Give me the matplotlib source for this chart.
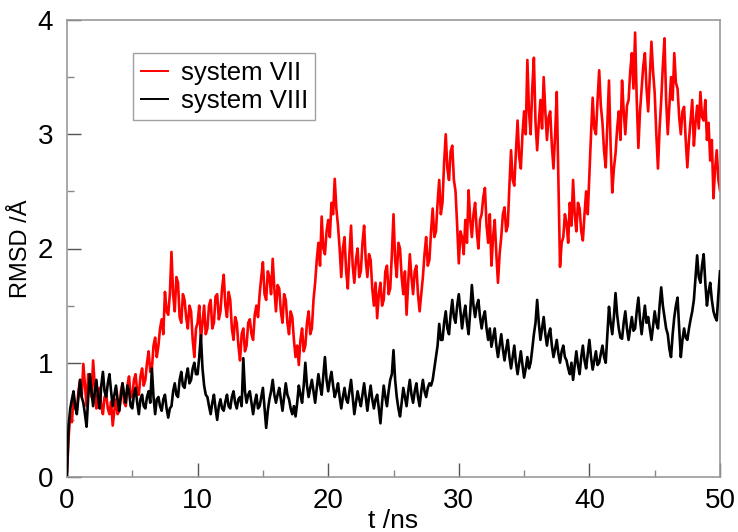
import numpy as np
import matplotlib
matplotlib.use("Agg")
import matplotlib.pyplot as plt
from matplotlib.ticker import MultipleLocator

# RMSD (Angstrom), 8 samples per ns (one row per ns)
rmsd_vii = [
    0.05, 0.35, 0.55, 0.48, 0.72, 0.60, 0.58, 0.75,
    0.85, 0.70, 0.99, 0.80, 0.62, 0.90, 0.80, 0.70,
    1.02, 0.80, 0.60, 0.72, 0.78, 0.62, 0.55, 0.70,
    0.72, 0.60, 0.55, 0.66, 0.45, 0.58, 0.68, 0.55,
    0.58, 0.75, 0.82, 0.65, 0.62, 0.80, 0.88, 0.70,
    0.70, 0.85, 0.90, 0.75, 0.72, 0.88, 0.95, 0.80,
    0.85, 1.00, 1.10, 0.92, 0.95, 1.15, 1.22, 1.05,
    1.15, 1.30, 1.38, 1.25, 1.62, 1.45, 1.42, 1.60,
    1.97, 1.60, 1.45, 1.75, 1.70, 1.40, 1.35, 1.60,
    1.55, 1.40, 1.30, 1.50, 1.45, 1.20, 1.05, 1.30,
    1.35, 1.50, 1.20, 1.35, 1.50, 1.25, 1.30, 1.50,
    1.55, 1.30, 1.35, 1.58, 1.60, 1.38, 1.45, 1.65,
    1.77, 1.50, 1.40, 1.62, 1.55, 1.30, 1.20, 1.40,
    1.35, 1.15, 1.02, 1.25, 1.30, 1.10, 1.15, 1.35,
    1.38, 1.25, 1.20, 1.42, 1.50, 1.40, 1.60, 1.75,
    1.88, 1.60, 1.55, 1.80, 1.75, 1.60, 1.91, 1.65,
    1.45, 1.68, 1.65, 1.45, 1.35, 1.60, 1.55, 1.35,
    1.25, 1.45, 1.40, 1.20, 1.05, 1.15, 0.98, 1.20,
    1.30, 1.10, 1.15, 1.35, 1.45, 1.25, 1.30, 1.55,
    1.70, 1.90, 2.05, 1.85, 2.28, 2.00, 1.95, 2.15,
    2.25, 2.10, 2.40, 2.30, 2.61, 2.35, 2.20, 2.00,
    1.75, 2.00, 2.10, 1.80, 1.65, 1.95, 2.20, 1.85,
    1.70, 1.90, 2.00, 1.75, 1.80, 2.05, 2.20, 1.90,
    1.75, 1.95, 1.90, 1.65, 1.50, 1.70, 1.39, 1.60,
    1.70, 1.50, 1.55, 1.80, 1.85, 1.60, 1.65, 1.95,
    2.30, 1.90, 1.75, 2.05, 2.00, 1.75, 1.60, 1.80,
    1.42, 1.70, 1.95, 1.75, 1.60, 1.80, 1.85, 1.60,
    1.45, 1.60, 1.75, 1.95, 2.10, 1.85, 1.90, 2.15,
    2.35, 2.10, 2.15, 2.40, 2.60, 2.30, 2.40, 2.75,
    3.00, 2.70, 2.60, 2.85, 2.90, 2.60, 2.50, 2.20,
    1.87, 2.15, 2.10, 1.95, 2.25, 2.05, 2.51, 2.25,
    2.10, 2.30, 2.40, 2.15, 2.00, 2.25, 2.30, 2.45,
    2.53, 2.20, 2.05, 2.30, 1.85, 2.10, 2.25, 1.95,
    1.70, 1.95, 2.10, 2.30, 2.36, 2.15, 2.20, 2.55,
    2.86, 2.60, 2.55, 2.85, 3.12, 2.80, 2.70, 3.00,
    3.20, 3.00, 3.65, 3.20, 3.00, 3.40, 3.67, 3.10,
    2.86, 3.10, 3.30, 3.05, 3.50, 3.20, 2.95, 3.15,
    3.20, 2.90, 2.70, 3.00, 3.37, 2.60, 1.84, 2.05,
    2.10, 2.30, 2.22, 2.05, 2.40, 2.20, 2.60, 2.30,
    2.15, 2.40, 2.35, 2.15, 2.07, 2.30, 2.50, 2.30,
    2.66, 3.00, 3.32, 3.05, 3.00, 3.30, 3.56, 3.25,
    3.10, 2.85, 2.71, 3.10, 3.47, 2.90, 2.49, 2.70,
    2.83, 3.05, 3.20, 2.95, 3.47, 3.20, 3.00, 3.25,
    3.30, 3.55, 3.71, 3.40, 3.89, 3.30, 2.88, 3.20,
    3.40, 3.60, 3.71, 3.40, 3.20, 3.50, 3.81, 3.55,
    3.36, 3.00, 2.70, 3.05, 3.30, 3.60, 3.84, 3.30,
    3.00, 3.25, 3.50, 3.30, 3.71, 3.45, 3.40, 3.15,
    3.00, 3.20, 3.24, 2.95, 2.71, 2.95, 3.12, 3.30,
    2.90, 3.10, 3.25, 3.05, 3.37, 3.15, 3.12, 3.30,
    2.95, 3.10, 2.77, 2.95, 2.44, 2.70, 2.86, 2.60,
    2.51,
]

rmsd_viii = [
    0.02, 0.45, 0.60, 0.68, 0.75, 0.62, 0.55, 0.70,
    0.85, 0.70, 0.65, 0.55, 0.44, 0.70, 0.90, 0.75,
    0.62, 0.75, 0.85, 0.70, 0.60, 0.80, 0.92, 0.75,
    0.70, 0.82, 0.90, 0.75, 0.62, 0.72, 0.80, 0.68,
    0.58, 0.70, 0.82, 0.72, 0.65, 0.80, 0.75, 0.62,
    0.60, 0.72, 0.78, 0.65, 0.55, 0.68, 0.72, 0.62,
    0.60, 0.70, 0.75, 0.65, 0.95, 0.70, 0.55, 0.68,
    0.70, 0.62, 0.58, 0.68, 0.72, 0.60, 0.52, 0.60,
    0.62, 0.75, 0.82, 0.72, 0.70, 0.85, 0.92, 0.80,
    0.78, 0.88, 0.95, 0.82, 0.85, 0.95, 1.00, 0.90,
    0.90, 1.05, 1.24, 0.95, 0.80, 0.72, 0.70, 0.62,
    0.55, 0.65, 0.72, 0.60, 0.50, 0.62, 0.68, 0.60,
    0.58, 0.66, 0.72, 0.62, 0.60, 0.70, 0.75, 0.65,
    0.60, 0.68, 0.70, 0.62, 1.04, 0.75, 0.65, 0.72,
    0.75, 0.65, 0.55, 0.65, 0.72, 0.60, 0.62, 0.70,
    0.78, 0.60, 0.43, 0.58, 0.68, 0.75, 0.85, 0.72,
    0.65, 0.72, 0.78, 0.68, 0.58, 0.70, 0.82, 0.72,
    0.68, 0.60, 0.55, 0.62, 0.53, 0.65, 0.80, 0.72,
    0.65, 0.80, 1.00, 0.80, 0.70, 0.78, 0.85, 0.75,
    0.65, 0.78, 0.90, 0.80, 0.72, 0.88, 1.05, 0.85,
    0.75, 0.85, 0.92, 0.80, 0.70, 0.75, 0.82, 0.70,
    0.60, 0.70, 0.78, 0.68, 0.65, 0.75, 0.85, 0.70,
    0.55, 0.65, 0.75, 0.68, 0.62, 0.72, 0.82, 0.70,
    0.58, 0.70, 0.80, 0.68, 0.60, 0.68, 0.72, 0.60,
    0.47, 0.65, 0.80, 0.70, 0.62, 0.75, 0.85, 0.90,
    1.11, 0.85, 0.70, 0.60, 0.53, 0.65, 0.78, 0.70,
    0.62, 0.75, 0.85, 0.72, 0.65, 0.75, 0.82, 0.70,
    0.62, 0.75, 0.85, 0.75, 0.70, 0.78, 0.82, 0.80,
    0.85, 0.95, 1.05, 1.15, 1.34, 1.20, 1.20, 1.35,
    1.45, 1.30, 1.25, 1.42, 1.55, 1.40, 1.35, 1.50,
    1.60, 1.45, 1.30, 1.42, 1.50, 1.35, 1.25, 1.45,
    1.68, 1.50, 1.40, 1.50, 1.55, 1.40, 1.30, 1.40,
    1.45, 1.30, 1.20, 1.30, 1.14, 1.22, 1.30, 1.15,
    1.05, 1.15, 1.25, 1.12, 1.02, 1.12, 1.20, 1.05,
    0.95, 1.05, 1.15, 1.00, 0.90, 1.00, 1.10, 0.98,
    0.87, 0.95, 1.05, 0.95, 1.00, 1.12, 1.25, 1.35,
    1.55, 1.35, 1.20, 1.30, 1.40, 1.25, 1.15, 1.25,
    1.30, 1.15, 1.05, 1.12, 1.20, 1.08, 1.00, 1.10,
    1.15, 1.05, 1.02, 0.95, 0.90, 1.00, 0.85, 0.98,
    1.10, 0.98, 0.90, 1.05, 1.15, 1.02, 0.95, 1.08,
    1.20, 1.05, 0.94, 1.02, 1.10, 0.98, 1.00, 1.08,
    1.15, 1.05, 1.00, 1.25, 1.49, 1.35, 1.25, 1.40,
    1.61, 1.42, 1.30, 1.22, 1.21, 1.35, 1.45, 1.30,
    1.20, 1.30, 1.40, 1.28, 1.30, 1.45, 1.57, 1.38,
    1.25, 1.38, 1.50, 1.35, 1.40, 1.30, 1.20, 1.32,
    1.45, 1.35, 1.30, 1.50, 1.66, 1.50, 1.40, 1.30,
    1.25, 1.12, 1.05, 1.25, 1.40, 1.50, 1.57, 1.30,
    1.05, 1.20, 1.30, 1.22, 1.20, 1.30, 1.38, 1.45,
    1.55, 1.75, 1.94, 1.75, 1.70, 1.85, 1.95, 1.70,
    1.50, 1.62, 1.70, 1.55, 1.45, 1.40, 1.37, 1.60,
    1.80,
]

# time axis: samples every 0.125 ns from 0 to 50 ns
t_step = 0.125
t_vii = np.arange(len(rmsd_vii)) * t_step
t_viii = np.arange(len(rmsd_viii)) * t_step

series_labels = ["system VII", "system VIII"]
x_ticks = [0, 10, 20, 30, 40, 50]
y_ticks = [0, 1, 2, 3, 4]

plt.rcParams['font.family'] = ['Liberation Sans', 'DejaVu Sans']

fig = plt.figure(figsize=(7.38, 5.32), dpi=100)
ax = fig.add_axes([67 / 738, 1 - 477 / 532, (720 - 67) / 738, (477 - 20) / 532])

ax.plot(t_vii, rmsd_vii, color='#ff0000', lw=1.9, label=series_labels[0], zorder=2)
ax.plot(t_viii, rmsd_viii, color='black', lw=1.9, label=series_labels[1], zorder=3)

ax.set_xlim(0, 50)
ax.set_ylim(0, 4)
ax.set_xticks(x_ticks)
ax.set_yticks(y_ticks)
ax.xaxis.set_minor_locator(MultipleLocator(5))
ax.yaxis.set_minor_locator(MultipleLocator(0.5))
ax.tick_params(which='major', direction='in', length=10, width=1, color='#555555',
               labelsize=20, pad=8)
ax.tick_params(which='minor', direction='in', length=5, width=1, color='#888888')
ax.tick_params(axis='y', which='major', pad=10)

for s in ax.spines.values():
    s.set_color('#999999')
    s.set_linewidth(1.2)

ax.set_xlabel("t /ns", fontsize=19, labelpad=-4)
ax.set_ylabel("RMSD /Å", fontsize=17, labelpad=4)

leg = ax.legend(loc='upper left', bbox_to_anchor=((133 - 67) / 653, (477 - 53) / 457),
                borderaxespad=0, fontsize=18.5, frameon=True, fancybox=False,
                handlelength=1.05, handletextpad=0.5, labelspacing=0.15,
                borderpad=0.3)
for line in leg.get_lines():
    line.set_linewidth(1.4)
leg.get_frame().set_edgecolor('#888888')
leg.get_frame().set_linewidth(1.0)

fig.savefig("out.png", dpi=100)
